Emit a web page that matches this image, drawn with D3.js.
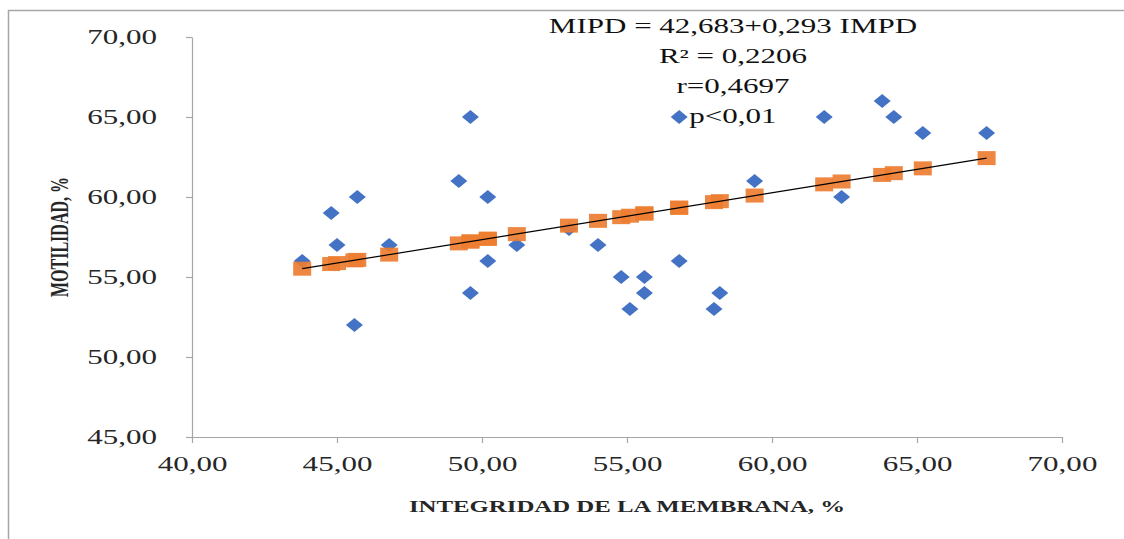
<!DOCTYPE html>
<html>
<head>
<meta charset="utf-8">
<script src="https://cdn.jsdelivr.net/npm/d3@7"></script>
<style>
  body { margin: 0; background: #fff; }
  text { font-family: "Liberation Serif", "Times New Roman", serif; }
</style>
</head>
<body>
<div id="chart"></div>
<script>
// membrane integrity (x) and motility (y), one per sample
const integridad = [49.6, 49.2, 45.7, 50.2, 44.8, 45.0, 46.8, 43.8, 50.2, 51.2, 49.6, 45.6,
  56.8, 61.8, 59.4, 62.4, 53.0, 54.0, 56.8, 54.8, 55.6, 55.6, 58.2, 55.1, 58.0,
  63.8, 64.2, 65.2, 67.4]
const motilidad = [65, 61, 60, 60, 59, 57, 57, 56, 56, 57, 54, 52,
  65, 65, 61, 60, 58, 57, 56, 55, 55, 54, 54, 53, 53,
  66, 65, 64, 64]
// predicted motility (orange squares) for the same samples
const predicho = [57.22, 57.10, 56.07, 57.39, 55.81, 55.87, 56.40, 55.52, 57.39, 57.68, 57.22, 56.04,
  59.33, 60.79, 60.09, 60.97, 58.21, 58.51, 59.33, 58.74, 58.97, 58.97, 59.74, 58.83, 59.68,
  61.38, 61.49, 61.79, 62.43]
// trend line ends
const trendX = [43.8, 67.4]
const trendY = [55.52, 62.43]

const xTicks = [40, 45, 50, 55, 60, 65, 70]
const yTicks = [45, 50, 55, 60, 65, 70]
const anotacion = ["MIPD = 42,683+0,293 IMPD", "R² = 0,2206", "r=0,4697", "p<0,01"]

const width = 1124
const height = 539
const stretch = 1.55 // text in the picture is wide

const svg = d3.select("#chart").append("svg")
    .attr("width", width)
    .attr("height", height)

// chart frame
svg.append("rect")
    .attr("x", 8.5).attr("y", 10.5)
    .attr("width", 1200).attr("height", 700)
    .attr("fill", "none")
    .attr("stroke", "#a6a6a6")
    .attr("stroke-width", 1.5)

const xScale = d3.scaleLinear().domain([40, 70]).range([192, 1062])
const yScale = d3.scaleLinear().domain([45, 70]).range([437, 37])

const locale = d3.formatLocale({decimal: ",", thousands: ".", grouping: [3], currency: ["", ""]})
const fmt = locale.format(".2f")

const xAxis = svg.append("g")
    .attr("transform", `translate(0, ${yScale(45)})`)
    .call(d3.axisBottom(xScale).tickValues(xTicks).tickFormat(fmt).tickSizeInner(6).tickSizeOuter(0).tickPadding(14))
const yAxis = svg.append("g")
    .attr("transform", `translate(${xScale(40)}, 0)`)
    .call(d3.axisLeft(yScale).tickValues(yTicks).tickFormat(fmt).tickSizeInner(6).tickSizeOuter(0).tickPadding(29))

svg.selectAll(".domain, .tick line").attr("stroke", "#a6a6a6").attr("stroke-width", 1.2)
svg.selectAll(".tick text")
    .style("font-family", '"Liberation Serif", serif')
    .style("font-size", "20px")
    .attr("fill", "#262626")

// blue diamonds
const pts = integridad.map((x, i) => ({x: x, y: motilidad[i], p: predicho[i]}))
svg.append("g").selectAll("path")
    .data(pts)
    .join("path")
    .attr("transform", d => `translate(${xScale(d.x)}, ${yScale(d.y)})`)
    .attr("d", "M0,-7L8.5,0L0,7L-8.5,0Z")
    .attr("fill", "#4472C4")

// orange squares
svg.append("g").selectAll("rect")
    .data(pts)
    .join("rect")
    .attr("x", d => xScale(d.x) - 9)
    .attr("y", d => yScale(d.p) - 7)
    .attr("width", 18)
    .attr("height", 14)
    .attr("fill", "#ED7D31")
    .attr("opacity", 0.92)

// trend line
svg.append("line")
    .attr("x1", xScale(trendX[0])).attr("y1", yScale(trendY[0]))
    .attr("x2", xScale(trendX[1])).attr("y2", yScale(trendY[1]))
    .attr("stroke", "#000")
    .attr("stroke-width", 1.2)

// equation text
svg.append("g").selectAll("text")
    .data(anotacion)
    .join("text")
    .attr("x", 733)
    .attr("y", (d, i) => 33 + i * 30)
    .attr("text-anchor", "middle")
    .attr("fill", "#111")
    .style("font-size", "20px")
    .text(d => d)

// axis titles
svg.append("text")
    .attr("x", 627).attr("y", 512)
    .attr("text-anchor", "middle")
    .style("font-size", "16px")
    .style("font-weight", "bold")
    .attr("fill", "#262626")
    .text("INTEGRIDAD DE LA MEMBRANA, %")

svg.append("text")
    .attr("transform", `translate(68, 237) scale(${stretch}, 1) rotate(-90)`)
    .attr("text-anchor", "middle")
    .style("font-size", "16px")
    .style("font-weight", "bold")
    .attr("fill", "#262626")
    .text("MOTILIDAD, %")

// widen horizontal texts to match the stretched look
svg.selectAll("text").each(function() {
    if (this.getAttribute("transform")) return
    const w = this.getComputedTextLength()
    d3.select(this)
        .attr("textLength", w * stretch)
        .attr("lengthAdjust", "spacingAndGlyphs")
})
</script>
</body>
</html>
